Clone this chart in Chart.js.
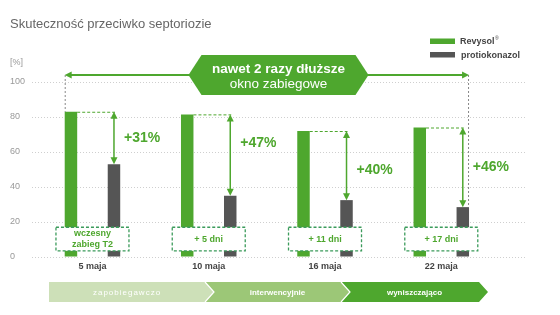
<!DOCTYPE html>
<html lang="pl">
<head>
<meta charset="UTF-8">
<title>Skuteczność przeciwko septoriozie</title>
<script src="https://cdn.jsdelivr.net/npm/chart.js@4"></script>
<style>
    html, body { margin: 0; padding: 0; background: #fff; }
    .wrap { width: 560px; height: 315px; position: relative; }
</style>
</head>
<body>
<div class="wrap"><canvas id="chart"></canvas></div>
<script>
    // data
    const dates = ['5 maja', '10 maja', '16 maja', '22 maja'];
    const revysol = [83, 81.5, 72, 74];
    const protiokonazol = [53, 35, 32.5, 28.5];
    const gains = ['+31%', '+47%', '+40%', '+46%'];
    const windowNotes = [['wczesny', 'zabieg T2'], ['+ 5 dni'], ['+ 11 dni'], ['+ 17 dni']];
    const phases = ['zapobiegawczo', 'interwencyjnie', 'wyniszczająco'];
    const seriesNames = ['Revysol', 'protiokonazol'];

    const GREEN = '#4ea72e';
    const GREY = '#555555';
    const FONT = '"Liberation Sans", Arial, sans-serif';

    function arrowHead(ctx, x, y, dir) {
        // dir: 'up', 'down', 'left', 'right'
        ctx.beginPath();
        if (dir === 'up') { ctx.moveTo(x, y); ctx.lineTo(x - 3.5, y + 7); ctx.lineTo(x + 3.5, y + 7); }
        if (dir === 'down') { ctx.moveTo(x, y); ctx.lineTo(x - 3.5, y - 7); ctx.lineTo(x + 3.5, y - 7); }
        if (dir === 'left') { ctx.moveTo(x, y); ctx.lineTo(x + 7, y - 3.5); ctx.lineTo(x + 7, y + 3.5); }
        if (dir === 'right') { ctx.moveTo(x, y); ctx.lineTo(x - 7, y - 3.5); ctx.lineTo(x - 7, y + 3.5); }
        ctx.closePath();
        ctx.fill();
    }

    function line(ctx, x1, y1, x2, y2) {
        ctx.beginPath();
        ctx.moveTo(x1, y1);
        ctx.lineTo(x2, y2);
        ctx.stroke();
    }

    const labelShift = [0, -12, 5, 0];

    const decorations = {
        id: 'decorations',
        afterDatasetsDraw(chart) {
            const ctx = chart.ctx;
            const ca = chart.chartArea;
            const y = chart.scales.y;
            const g = chart.getDatasetMeta(0).data;
            const p = chart.getDatasetMeta(1).data;
            ctx.save();

            // title
            ctx.fillStyle = '#666';
            ctx.font = '13px ' + FONT;
            ctx.textBaseline = 'middle';
            ctx.textAlign = 'left';
            ctx.fillText('Skuteczność przeciwko septoriozie', 10, 24);

            // unit label
            ctx.fillStyle = '#999';
            ctx.font = '9px ' + FONT;
            ctx.fillText('[%]', 10, 63);

            // legend
            ctx.fillStyle = GREEN;
            ctx.fillRect(430, 38.5, 25, 5.5);
            ctx.fillStyle = GREY;
            ctx.fillRect(430, 52, 25, 5.5);
            ctx.fillStyle = '#444';
            ctx.font = 'bold 9px ' + FONT;
            ctx.fillText(seriesNames[0], 460, 41.5);
            const w0 = ctx.measureText(seriesNames[0]).width;
            ctx.font = '5px ' + FONT;
            ctx.fillText('®', 460 + w0 + 0.5, 39);
            ctx.font = 'bold 9px ' + FONT;
            ctx.fillText(seriesNames[1], 461, 55.5);

            // per date: gap arrow, gain label, window box
            g.forEach((bar, i) => {
                const grey = p[i];
                const ax = grey.x;
                ctx.strokeStyle = GREEN;
                ctx.fillStyle = GREEN;
                ctx.lineWidth = 1;
                ctx.setLineDash([3, 2]);
                line(ctx, bar.x + bar.width / 2, bar.y + 0.5, ax + 1, bar.y + 0.5);
                ctx.setLineDash([]);
                ctx.lineWidth = 1.5;
                line(ctx, ax, bar.y + 5, ax, grey.y - 5);
                arrowHead(ctx, ax, bar.y, 'up');
                arrowHead(ctx, ax, grey.y, 'down');

                ctx.font = 'bold 14px ' + FONT;
                ctx.textAlign = 'left';
                ctx.fillText(gains[i], ax + 10, (bar.y + grey.y) / 2 + labelShift[i]);

                // dashed window box
                const cx = (bar.x + grey.x) / 2;
                const top = y.getPixelForValue(17);
                const bottom = y.getPixelForValue(3.5);
                ctx.fillStyle = '#fff';
                ctx.fillRect(cx - 36.5, top, 73, bottom - top);
                ctx.strokeStyle = '#3b9b5b';
                ctx.lineWidth = 1.3;
                ctx.setLineDash([3, 2]);
                ctx.strokeRect(cx - 36.5, top, 73, bottom - top);
                ctx.setLineDash([]);
                ctx.fillStyle = GREEN;
                ctx.font = 'bold 9px ' + FONT;
                ctx.textAlign = 'center';
                const note = windowNotes[i];
                const mid = (top + bottom) / 2;
                note.forEach((t, k) => {
                    ctx.fillText(t, cx, mid + (k - (note.length - 1) / 2) * 11.5);
                });
            });

            // spray window arrow + banner
            const arrowY = ca.top - 7;
            const leftX = g[0].x - g[0].width / 2;
            const last = p[p.length - 1];
            const rightX = last.x + last.width / 2;
            ctx.strokeStyle = '#888';
            ctx.lineWidth = 1;
            ctx.setLineDash([2, 2]);
            line(ctx, leftX + 0.5, arrowY, leftX + 0.5, g[0].y);
            line(ctx, rightX - 0.5, arrowY, rightX - 0.5, last.y);
            ctx.setLineDash([]);

            const bx = (ca.left + ca.right) / 2;
            ctx.strokeStyle = GREEN;
            ctx.fillStyle = GREEN;
            ctx.lineWidth = 2;
            line(ctx, leftX + 5, arrowY, bx - 85, arrowY);
            line(ctx, bx + 85, arrowY, rightX - 5, arrowY);
            arrowHead(ctx, leftX, arrowY, 'left');
            arrowHead(ctx, rightX, arrowY, 'right');

            ctx.beginPath();
            ctx.moveTo(bx - 90, arrowY);
            ctx.lineTo(bx - 77, arrowY - 20);
            ctx.lineTo(bx + 77, arrowY - 20);
            ctx.lineTo(bx + 90, arrowY);
            ctx.lineTo(bx + 77, arrowY + 20);
            ctx.lineTo(bx - 77, arrowY + 20);
            ctx.closePath();
            ctx.fill();
            ctx.fillStyle = '#fff';
            ctx.textAlign = 'center';
            ctx.font = 'bold 13.5px ' + FONT;
            ctx.fillText('nawet 2 razy dłuższe', bx, arrowY - 6);
            ctx.font = '13.5px ' + FONT;
            ctx.fillText('okno zabiegowe', bx, arrowY + 9);

            // phase chevrons
            const segs = [[49, 205, '#cde0b8'], [205, 341, '#9cc777'], [341, 479, GREEN]];
            const t = 282, b = 302, m = 292, d = 9;
            segs.forEach(([x0, x1, col], k) => {
                ctx.fillStyle = col;
                ctx.beginPath();
                ctx.moveTo(x0, t);
                ctx.lineTo(x1, t);
                ctx.lineTo(x1 + d, m);
                ctx.lineTo(x1, b);
                ctx.lineTo(x0, b);
                if (k > 0) ctx.lineTo(x0 + d, m);
                ctx.closePath();
                ctx.fill();
                if (k > 0) {
                    ctx.strokeStyle = '#fff';
                    ctx.lineWidth = 1.2;
                    ctx.beginPath();
                    ctx.moveTo(x0, t);
                    ctx.lineTo(x0 + d, m);
                    ctx.lineTo(x0, b);
                    ctx.stroke();
                }
                ctx.fillStyle = '#fff';
                ctx.textAlign = 'center';
                ctx.font = (k === 0 ? '' : 'bold ') + '8px ' + FONT;
                if (k === 0) ctx.letterSpacing = '1px';
                ctx.fillText(phases[k], (x0 + x1) / 2 + (k > 0 ? d / 2 : 0), m + 0.5);
                ctx.letterSpacing = '0px';
            });

            ctx.restore();
        }
    };

    new Chart(document.getElementById('chart'), {
        type: 'bar',
        data: {
            datasets: [
                {
                    label: seriesNames[0],
                    data: revysol.map((v, i) => ({ x: i, y: v })),
                    backgroundColor: GREEN
                },
                {
                    label: seriesNames[1],
                    data: protiokonazol.map((v, i) => ({ x: i, y: v })),
                    backgroundColor: GREY
                }
            ]
        },
        options: {
            responsive: true,
            maintainAspectRatio: false,
            animation: false,
            categoryPercentage: 0.74,
            barPercentage: 0.29,
            layout: { padding: { top: 82, right: 35, left: 10, bottom: 0 } },
            plugins: {
                legend: { display: false },
                tooltip: { enabled: false }
            },
            scales: {
                x: {
                    type: 'linear',
                    offset: false,
                    min: -0.52,
                    max: 3.72,
                    afterBuildTicks: scale => {
                        scale.ticks = dates.map((d, i) => ({ value: i }));
                    },
                    afterFit: scale => { scale.height = 58; },
                    grid: { display: false, drawTicks: false, offset: false },
                    border: { display: false },
                    ticks: {
                        padding: 4,
                        color: '#444',
                        font: { family: FONT, size: 9, weight: 'bold' },
                        callback: v => dates[v]
                    }
                },
                y: {
                    min: 0,
                    max: 100,
                    afterFit: scale => { scale.width = 22; },
                    grid: { color: '#cfcfcf', lineWidth: 1, drawTicks: false },
                    border: { display: false, dash: [1, 2] },
                    ticks: {
                        stepSize: 20,
                        crossAlign: 'far',
                        color: '#999',
                        font: { family: FONT, size: 9 }
                    }
                }
            }
        },
        plugins: [decorations]
    });
</script>
</body>
</html>
